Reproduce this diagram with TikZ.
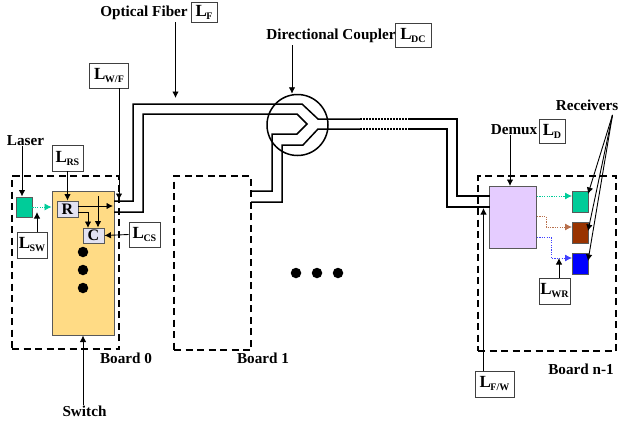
\documentclass[tikz,border=0pt]{standalone}
\usepackage{fontspec}
\setmainfont{Liberation Serif}
\usetikzlibrary{arrows.meta}
\definecolor{swy}{HTML}{FFDB85}
\definecolor{lav}{HTML}{E2E2F2}
\definecolor{dem}{HTML}{E5CCFF}
\definecolor{grn}{HTML}{00CC99}
\definecolor{brn}{HTML}{993300}
\definecolor{blu}{HTML}{0000FF}
\newcommand{\Lb}[1]{\textbf{L\kern-0.5pt\raisebox{-3pt}{\fontsize{10}{10}\selectfont #1}}}
\tikzset{
 x=1pt,y=-1pt,
 txt/.style={font=\fontsize{15.2}{16}\selectfont\bfseries,inner sep=0pt},
 lbox/.style={draw=black!75,line width=0.9pt,fill=white,inner sep=0pt,font=\fontsize{17}{17}\selectfont},
 board/.style={draw,dashed,dash pattern=on 7pt off 4.5pt,line width=1.4pt,inner sep=0pt},
 solidbox/.style={draw=black!65,line width=0.9pt,inner sep=0pt},
 small/.style={solidbox,fill=lav,font=\fontsize{16}{16}\selectfont\bfseries},
 fiber/.style={line width=1.5pt,line join=miter},
 fdot/.style={line width=1.5pt,dash pattern=on 1.5pt off 1.5pt},
 arr/.style={line width=0.9pt,-{Latex[length=6.5pt,width=6.5pt]}},
 darr/.style={line width=0.8pt,dash pattern=on 1.2pt off 1.2pt,-{Latex[length=7pt,width=7pt]}},
 blob/.style={circle,fill=black,minimum size=10.5pt,inner sep=0pt},
 coup/.style={circle,draw,line width=1.5pt,minimum size=61pt,inner sep=0pt}
}
\begin{document}
\begin{tikzpicture}
\useasboundingbox (0,0) rectangle (618,423);
% boards
\node[board,minimum width=107pt,minimum height=173pt] (b0) at (65.5,262.5) {};
\node[board,minimum width=77pt,minimum height=174pt] (b1) at (212.5,263) {};
\node[board,minimum width=138pt,minimum height=175pt] (bn) at (547,263.5) {};
% components
\node[solidbox,fill=swy,minimum width=62pt,minimum height=144pt] (sw) at (83,263) {};
\node[solidbox,fill=grn,minimum width=16pt,minimum height=20pt] (las) at (24,207) {};
\node[small,minimum width=21pt,minimum height=16pt] (r) at (67.5,209) {R};
\node[small,minimum width=21pt,minimum height=15pt] (c) at (93.5,235.5) {C};
\node[blob] (d1) at (83,252) {};
\node[blob] (d2) at (83,270) {};
\node[blob] (d3) at (83,288) {};
\node[blob] (m1) at (296,273) {};
\node[blob] (m2) at (317,273) {};
\node[blob] (m3) at (338,273) {};
\node[solidbox,fill=dem,minimum width=47pt,minimum height=62pt] (dm) at (513,217) {};
\node[solidbox,fill=grn,minimum width=16pt,minimum height=21pt] (rg) at (580,201.5) {};
\node[solidbox,fill=brn,minimum width=16pt,minimum height=21pt] (rb) at (580,232.5) {};
\node[solidbox,fill=blu,minimum width=16pt,minimum height=21pt] (rl) at (580,263.5) {};
\node[coup] (dc) at (297.5,125) {};
% fibers
\coordinate (a1) at (114,201); \coordinate (a2) at (133,201); \coordinate (a3) at (133,104);
\coordinate (a4) at (302,104); \coordinate (a5) at (318,119); \coordinate (a6) at (360,119);
\coordinate (e1) at (114,212); \coordinate (e2) at (143,212); \coordinate (e3) at (143,114);
\coordinate (e4) at (297,114); \coordinate (tip) at (307,124); \coordinate (e6) at (297,134);
\coordinate (e7) at (272,134); \coordinate (e8) at (272,191); \coordinate (e9) at (251,191);
\coordinate (f1) at (251,202); \coordinate (f2) at (282,202); \coordinate (f3) at (282,145);
\coordinate (f4) at (303,145); \coordinate (f5) at (318,129); \coordinate (f6) at (360,129);
\coordinate (g1) at (410,119); \coordinate (g2) at (457,119); \coordinate (g3) at (457,196); \coordinate (g4) at (490,196);
\coordinate (h1) at (410,129); \coordinate (h2) at (447,129); \coordinate (h3) at (447,207); \coordinate (h4) at (490,207);
\draw[fiber] (a1)--(a2)--(a3)--(a4)--(a5)--(a6);
\draw[fiber] (e1)--(e2)--(e3)--(e4)--(tip)--(e6)--(e7)--(e8)--(e9);
\draw[fiber] (f1)--(f2)--(f3)--(f4)--(f5)--(f6);
\draw[fdot] (a6)--(g1);
\draw[fdot] (f6)--(h1);
\draw[fiber] (g1)--(g2)--(g3)--(g4);
\draw[fiber] (h1)--(h2)--(h3)--(h4);
% label boxes
\node[lbox,minimum width=31pt,minimum height=26pt] (lrs) at (67.5,158) {\Lb{RS}};
\node[lbox,minimum width=30pt,minimum height=26pt] (lsw) at (32,245) {\Lb{SW}};
\node[lbox,minimum width=31pt,minimum height=25pt] (lcs) at (144.5,234.5) {\Lb{CS}};
\node[lbox,minimum width=39pt,minimum height=25pt] (lwf) at (109,75.5) {\Lb{W/F}};
\node[lbox,minimum width=26pt,minimum height=20pt] (lf) at (204,12) {\Lb{F}};
\node[lbox,minimum width=36pt,minimum height=24pt] (ldc) at (413,35) {\Lb{DC}};
\node[lbox,minimum width=26pt,minimum height=24pt] (ld) at (552,131) {\Lb{D}};
\node[lbox,minimum width=31pt,minimum height=26pt] (lwr) at (554.5,291) {\Lb{WR}};
\node[lbox,minimum width=39pt,minimum height=26pt] (lfw) at (494.5,384) {\Lb{F/W}};
% texts
\node[txt] (tlaser) at (25.5,141) {Laser};
\node[txt] (tof) at (144,13) {Optical Fiber};
\node[txt] (tdc) at (331,36) {Directional Coupler};
\node[txt] (tdm) at (514,130) {Demux};
\node[txt] (trc) at (587,105) {Receivers};
\node[txt] (tb0) at (126,358) {Board 0};
\node[txt] (tb1) at (263,358) {Board 1};
\node[txt] (tbn) at (581,369) {Board n-1};
\node[txt] (tsw) at (84.5,411) {Switch};
% arrows
\coordinate (of) at (175.5,22); \coordinate (ofe) at (175.5,98);
\draw[arr] (of)--(ofe);
\coordinate (dcs) at (292,45);
\draw[arr] (dcs)--(dcs|-dc.north);
\draw[arr] (tlaser.south -| 22,0)--(22,196.5);
\draw[arr] (lrs.south)--(r.north);
\draw[arr] (lsw.north -| 37,0)--(37,212);
\draw[arr] (r.east |- 0,206)--(113,206);
\draw[arr] (r.east |- 0,212)-|(88,228);
\coordinate (cs) at (98,196);
\draw[arr] (cs)--(cs|-c.north);
\draw[arr] (lcs.west)--(c.east);
\draw[arr] (lwf.south -| 119,0)--(119,200);
\draw[arr] (tdm.south -| 510,0)--(510,186);
\draw[arr] (lfw.north -| 483.5,0)--(483.5,208);
\draw[arr] (lwr.north -| 559,0)--(559,258);
\draw[arr] (tsw.north -| 83,0)--(83,335.5);
\coordinate (rc) at (612.5,115);
\draw[arr] (rc)--(588,194);
\draw[arr] (rc)--(588,231);
\draw[arr] (rc)--(588,261);
\draw[darr,grn] (las.east)--(sw.west |- las.east);
\draw[darr,grn] (dm.east |- 0,196)--(572,196);
\draw[darr,brn!70] (dm.east |- 0,216)-|(546,227)--(572,227);
\draw[darr,blu!75] (dm.east |- 0,237)-|(551,258)--(572,258);
\end{tikzpicture}
\end{document}
